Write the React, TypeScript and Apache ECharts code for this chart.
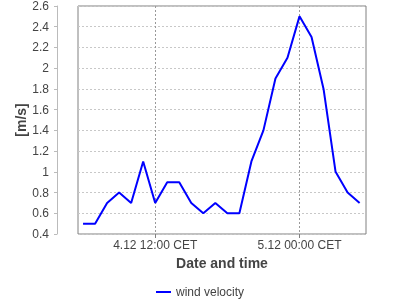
import React, { useEffect, useRef } from "react";
import * as echarts from "echarts";

const times = [
  "4.12 06:00", "4.12 07:00", "4.12 08:00", "4.12 09:00", "4.12 10:00", "4.12 11:00",
  "4.12 12:00", "4.12 13:00", "4.12 14:00", "4.12 15:00", "4.12 16:00", "4.12 17:00",
  "4.12 18:00", "4.12 19:00", "4.12 20:00", "4.12 21:00", "4.12 22:00", "4.12 23:00",
  "5.12 00:00", "5.12 01:00", "5.12 02:00", "5.12 03:00", "5.12 04:00", "5.12 05:00",
];
const windVelocity = [
  0.5, 0.5, 0.7, 0.8, 0.7, 1.1,
  0.7, 0.9, 0.9, 0.7, 0.6, 0.7,
  0.6, 0.6, 1.1, 1.4, 1.9, 2.1,
  2.5, 2.3, 1.8, 1.0, 0.8, 0.7,
];
const xTickTimes = ["4.12 12:00", "5.12 00:00"];
const seriesName = "wind velocity";
const xAxisTitle = "Date and time";
const yAxisTitle = "[m/s]";

function toHours(t: string): number {
  const [d, hm] = t.split(" ");
  const day = parseInt(d.split(".")[0], 10);
  const [h, m] = hm.split(":").map(Number);
  return (day - 4) * 24 + h + m / 60;
}
function fromHours(v: number): string {
  const dayOff = Math.floor(v / 24 + 1e-9);
  const h = Math.round(v - dayOff * 24);
  return `${4 + dayOff}.12 ${String(h).padStart(2, "0")}:00 CET`;
}

export default function App() {
  const ref = useRef<HTMLDivElement>(null);
  useEffect(() => {
    if (!ref.current) return;
    const chart = echarts.init(ref.current, undefined, { renderer: "svg" });
    const font = "Liberation Sans, Arial, Helvetica, sans-serif";
    const xTicks = xTickTimes.map(toHours);
    chart.setOption({
      animation: false,
      textStyle: { fontFamily: font },
      grid: {
        left: 78,
        top: 6,
        right: 34,
        bottom: 66,
        show: true,
        borderColor: "#808080",
        borderWidth: 1,
        backgroundColor: "transparent",
      },
      xAxis: {
        type: "value",
        min: 5.58,
        max: 29.53,
        axisLine: { show: false },
        axisTick: { show: true, customValues: xTicks, length: 4, lineStyle: { color: "#808080" } },
        axisLabel: {
          customValues: xTicks,
          formatter: (v: number) => fromHours(v),
          fontSize: 12,
          color: "#444",
          margin: 5,
          fontFamily: font,
        },
        splitLine: { show: true, lineStyle: { color: "#999", type: [2, 2] } },
        name: xAxisTitle,
        nameLocation: "middle",
        nameGap: 22,
        nameMoveOverlap: false,
        nameTextStyle: { fontSize: 14, fontWeight: "bold", color: "#444", fontFamily: font },
      },
      yAxis: {
        type: "value",
        min: 0.4,
        max: 2.6,
        interval: 0.2,
        offset: 21,
        axisLine: { show: true, lineStyle: { color: "#bbb" } },
        axisTick: { show: true, length: 3, lineStyle: { color: "#bbb" } },
        axisLabel: { fontSize: 12, color: "#444", margin: 8, fontFamily: font },
        splitLine: { show: true, lineStyle: { color: "#c8c8c8", type: [2, 2] } },
        name: yAxisTitle,
        nameLocation: "middle",
        nameGap: 29,
        nameMoveOverlap: false,
        nameTextStyle: { fontSize: 14, fontWeight: "bold", color: "#444", fontFamily: font },
      },
      legend: {
        top: 281,
        left: "center",
        icon: "rect",
        itemWidth: 15,
        itemHeight: 2,
        textStyle: { fontSize: 12, color: "#444", fontFamily: font },
        data: [seriesName],
      },
      series: [
        {
          type: "line",
          name: seriesName,
          data: times.map((t, i) => [toHours(t), windVelocity[i]]),
          symbol: "none",
          lineStyle: { color: "#0000ff", width: 2 },
          itemStyle: { color: "#0000ff" },
        },
      ],
    });
    return () => chart.dispose();
  }, []);
  return (
    <div
      ref={ref}
      style={{ position: "fixed", left: 0, top: 0, width: 400, height: 300 }}
    />
  );
}
